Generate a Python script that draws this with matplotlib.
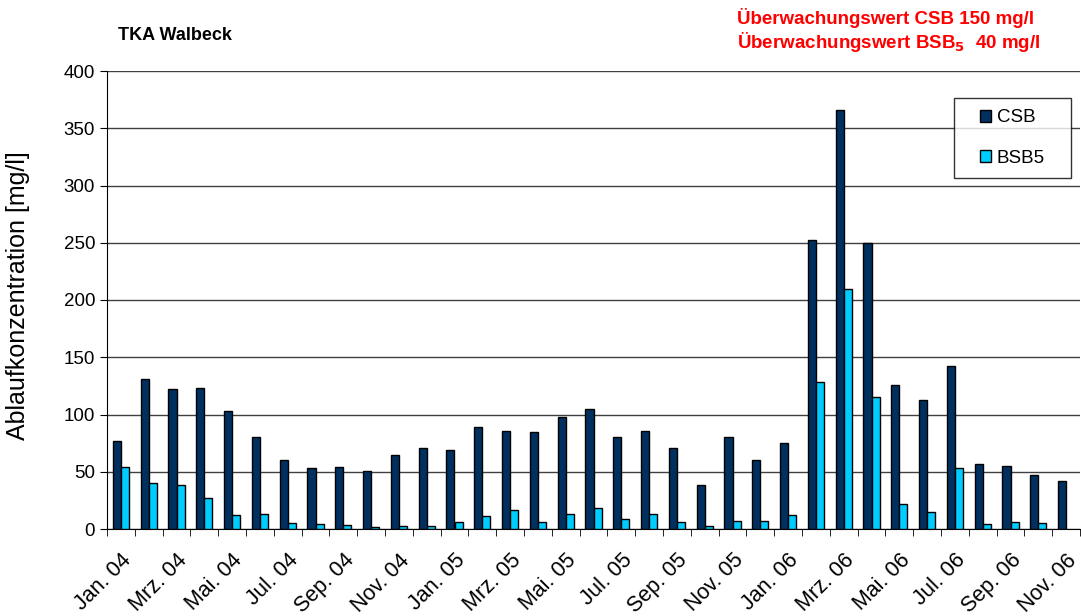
import numpy as np
import matplotlib.pyplot as plt
from matplotlib.path import Path

plt.rcParams['font.family'] = ['Liberation Sans', 'DejaVu Sans']

# monthly values Jan 04 .. Nov 06
months = ['Jan.', 'Feb.', 'Mrz.', 'Apr.', 'Mai.', 'Jun.', 'Jul.', 'Aug.',
          'Sep.', 'Okt.', 'Nov.', 'Dez.']
years = ['04', '05', '06']
categories = [f'{m} {y}' for y in years for m in months][:35]

csb = [77, 131, 122, 123, 103, 80, 60, 53, 54, 51, 65, 71,
       69, 89, 86, 85, 98, 105, 80, 86, 71, 38, 80, 60,
       75, 252, 366, 250, 126, 113, 142, 57, 55, 47, 42]
bsb5 = [54, 40, 38, 27, 12, 13, 5, 4, 3.5, 2, 3, 3,
        6, 11, 17, 6, 13, 18, 9, 13, 6, 3, 7, 7,
        12, 128, 210, 115, 22, 15, 53, 4, 6, 5, np.nan]


def wide_box(x0, y0, width, height, mutation_size):
    """legend frame with extra room left and right"""
    dx = 0.8 * mutation_size
    x1, y1 = x0 + width + dx, y0 + height
    x0 = x0 - dx
    return Path([(x0, y0), (x1, y0), (x1, y1), (x0, y1), (x0, y0)], closed=True)


fig = plt.figure(figsize=(10.81, 6.16), dpi=100)
ax = fig.add_axes([107 / 1081, 1 - 529 / 616, 973 / 1081, 458 / 616])

x = np.arange(len(categories))
w = 0.29
ax.bar(x - w / 2, csb, w, color='#00305F', edgecolor='black', linewidth=1,
       label='CSB', zorder=3)
ax.bar(x + w / 2, bsb5, w, color='#00CCFF', edgecolor='black', linewidth=1,
       label='BSB5', zorder=3)

ax.set_xlim(-0.5, len(categories) - 0.5)
ax.set_ylim(0, 400)
ax.set_yticks(np.arange(0, 401, 50))
ax.yaxis.grid(True, color='#404040', linewidth=1, zorder=0)
ax.set_axisbelow(True)

ax.set_xticks(x[::2])
ax.set_xticklabels(categories[::2], rotation=45, ha='right',
                   rotation_mode='anchor', fontsize=15.5)
ax.set_xticks(np.arange(-0.5, len(categories), 1), minor=True)
ax.tick_params(axis='x', which='major', length=0, pad=15)
ax.tick_params(axis='x', which='minor', length=5, direction='out')
ax.tick_params(axis='y', labelsize=13.5, length=5, direction='out')

for s in ['top', 'right']:
    ax.spines[s].set_visible(False)

ax.set_ylabel('Ablaufkonzentration [mg/l]', fontsize=18)
ax.yaxis.set_label_coords(-0.079, 0.509)

leg = ax.legend(loc='upper right', bbox_to_anchor=(1056 / 1081, 1 - 98 / 616),
                bbox_transform=fig.transFigure, fontsize=13.5, frameon=True,
                fancybox=False, edgecolor='black', labelspacing=1.25,
                handlelength=0.6, handleheight=0.6, handletextpad=0.3,
                borderpad=0.6, borderaxespad=0)
leg.get_frame().set_linewidth(1)
leg.get_frame().set_boxstyle(wide_box)

fig.text(118 / 1081, 1 - 36 / 616, 'TKA Walbeck', fontsize=13,
         fontweight='bold', va='center')
fig.text(737 / 1081, 1 - 18 / 616, 'Überwachungswert CSB 150 mg/l',
         fontsize=13.5, fontweight='bold', color='#FF0000', va='center')
fig.text(737 / 1081, 1 - 42 / 616, r'Überwachungswert BSB$_\mathbf{5}$  40 mg/l',
         fontsize=13.5, fontweight='bold', color='#FF0000', va='center')

fig.savefig('out.png', dpi=100)
